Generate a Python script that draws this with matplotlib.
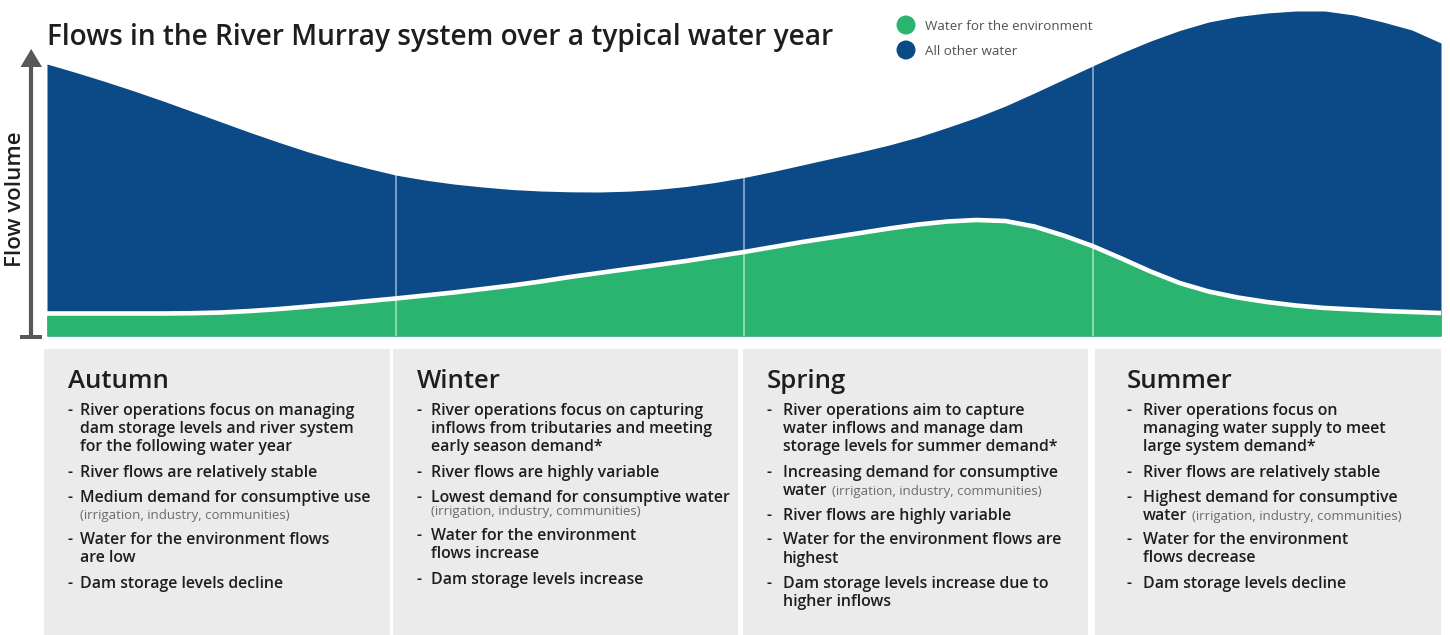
import matplotlib
matplotlib.use("Agg")
import matplotlib.pyplot as plt
from matplotlib.patches import Rectangle, Circle, Polygon

# ---------------- data ----------------
months = [0, 0.25, 0.5, 0.75, 1, 1.25, 1.5, 1.75, 2, 2.25, 2.5, 2.75, 3, 3.25,
          3.5, 3.75, 4, 4.25, 4.5, 4.75, 5, 5.25, 5.5, 5.75, 6, 6.25, 6.5,
          6.75, 7, 7.25, 7.5, 7.75, 8, 8.25, 8.5, 8.75, 9, 9.25, 9.5, 9.75,
          10, 10.25, 10.5, 10.75, 11, 11.25, 11.5, 11.75, 12]
total_flow = [272, 263.5, 254.5, 245, 235, 224.5, 214, 203.5, 193.5, 184, 175.5,
              168, 161, 156, 152, 149, 146.5, 145, 144.2, 144, 144.8, 146.5,
              149.5, 153.5, 158.5, 164.5, 171, 177.5, 184, 191, 199, 208.5,
              218.5, 230, 243, 256.5, 270, 283, 295, 305.5, 314, 319.5, 323,
              325, 325, 321, 314, 306, 293]
env_flow = [22.5, 22.5, 22.5, 22.5, 22.5, 22.8, 23.5, 25, 27, 29.5, 32, 34.8,
            37.5, 40.5, 43.5, 47, 50.5, 54.5, 59, 63, 67, 71, 75, 79.5, 84, 89,
            94, 98.5, 103, 107.5, 111.5, 114.5, 116, 115, 109.5, 100.5, 90,
            77.5, 64.5, 53, 44.5, 38.5, 34, 30.5, 28, 26.5, 25, 24, 23]

season_bounds = [3, 6, 9]
series_labels = ["Water for the environment", "All other water"]
title = "Flows in the River Murray system over a typical water year"
y_label = "Flow volume"

seasons = ["Autumn", "Winter", "Spring", "Summer"]
notes_autumn = [
    ("-", "River operations focus on managing", None),
    ("", "dam storage levels and river system", None),
    ("", "for the following water year", None),
    ("-", "River flows are relatively stable", None),
    ("-", "Medium demand for consumptive use", None),
    ("", "", "(irrigation, industry, communities)"),
    ("-", "Water for the environment flows", None),
    ("", "are low", None),
    ("-", "Dam storage levels decline", None),
]
notes_winter = [
    ("-", "River operations focus on capturing", None),
    ("", "inflows from tributaries and meeting", None),
    ("", "early season demand*", None),
    ("-", "River flows are highly variable", None),
    ("-", "Lowest demand for consumptive water", None),
    ("", "", "(irrigation, industry, communities)"),
    ("-", "Water for the environment", None),
    ("", "flows increase", None),
    ("-", "Dam storage levels increase", None),
]
notes_spring = [
    ("-", "River operations aim to capture", None),
    ("", "water inflows and manage dam", None),
    ("", "storage levels for summer demand*", None),
    ("-", "Increasing demand for consumptive", None),
    ("", "water", "(irrigation, industry, communities)"),
    ("-", "River flows are highly variable", None),
    ("-", "Water for the environment flows are", None),
    ("", "highest", None),
    ("-", "Dam storage levels increase due to", None),
    ("", "higher inflows", None),
]
notes_summer = [
    ("-", "River operations focus on", None),
    ("", "managing water supply to meet", None),
    ("", "large system demand*", None),
    ("-", "River flows are relatively stable", None),
    ("-", "Highest demand for consumptive", None),
    ("", "water", "(irrigation, industry, communities)"),
    ("-", "Water for the environment", None),
    ("", "flows decrease", None),
    ("-", "Dam storage levels decline", None),
]

# ---------------- style ----------------
W, H = 1450, 635
BLUE = "#0c4a87"
GREEN = "#2ab46f"
PANEL = "#ebebeb"
DARK = "#1e1e1e"
GREY_TXT = "#6a6a6a"
ARROW = "#54595d"
FONT = ["Open Sans", "DejaVu Sans"]
plt.rcParams["font.family"] = FONT

fig = plt.figure(figsize=(W / 100, H / 100), dpi=100)

# overlay axes in pixel coordinates
ov = fig.add_axes([0, 0, 1, 1])
ov.set_xlim(0, W)
ov.set_ylim(H, 0)
ov.axis("off")

# chart axes
x_left, x_right, y_base = 47, 1441, 336
ax = fig.add_axes([x_left / W, 1 - y_base / H, (x_right - x_left) / W, y_base / H])
ax.set_xlim(0, 12)
ax.set_ylim(0, y_base)
ax.axis("off")
ax.patch.set_alpha(0)

blue = ax.fill_between(months, 0, total_flow, color=BLUE, lw=0, zorder=1)
ax.fill_between(months, 0, env_flow, color=GREEN, lw=0, zorder=2)
ax.plot(months, env_flow, color="white", lw=3.3, zorder=3,
        solid_joinstyle="round", solid_capstyle="butt")
vl = ax.vlines(season_bounds, 0, y_base, color="white", alpha=0.5, lw=1.3, zorder=4)
vl.set_clip_path(blue.get_paths()[0], ax.transData)

# title
ov.text(47, 45, title, fontsize=20.2, fontweight="semibold", color=DARK, va="baseline", ha="left")

# legend
ov.add_patch(Circle((906, 25), 9.5, color=GREEN, lw=0))
ov.add_patch(Circle((906, 50), 9.5, color=BLUE, lw=0))
ov.text(925, 25, series_labels[0], fontsize=9.6, color="#505050", va="center_baseline", ha="left")
ov.text(925, 50, series_labels[1], fontsize=9.6, color="#505050", va="center_baseline", ha="left")

# y arrow
ov.plot([31, 31], [337, 64], color=ARROW, lw=3.0, solid_capstyle="butt")
ov.add_patch(Polygon([(20.5, 67), (42, 67), (31.2, 49)], closed=True, color=ARROW, lw=0))
ov.add_patch(Rectangle((20, 335), 22, 4, color=ARROW, lw=0))
ov.text(16, 199, y_label, rotation=90, fontsize=16, fontweight="semibold", color=DARK,
        ha="center", va="center")

# panels
panel_x = [(44, 390), (393, 738), (743, 1088), (1095, 1441)]
title_x = [68, 417, 767, 1127]
text_x = [80, 431, 783, 1143]
baselines = [
    [415, 433, 451, 477, 502, 519, 544, 562, 588],
    [415, 433, 451, 477, 502, 515, 540, 558, 584],
    [415, 433, 451, 477, 495, 520, 544, 563, 588, 606],
    [415, 433, 451, 477, 502, 520, 544, 562, 588],
]
notes = [notes_autumn, notes_winter, notes_spring, notes_summer]

fig.canvas.draw()
renderer = fig.canvas.get_renderer()

for i in range(4):
    x0, x1 = panel_x[i]
    ov.add_patch(Rectangle((x0, 349), x1 - x0, H - 349 + 2, color=PANEL, lw=0, zorder=0))
    ov.text(title_x[i], 388, seasons[i], fontsize=18.5, fontweight="semibold", color=DARK,
            va="baseline", ha="left")
    for (dash, main, small), yb in zip(notes[i], baselines[i]):
        if dash:
            ov.text(title_x[i], yb, dash, fontsize=11.4, fontweight="semibold", color=DARK,
                    va="baseline", ha="left")
        xs = text_x[i]
        if main:
            t = ov.text(xs, yb, main, fontsize=11.4, fontweight="semibold", color=DARK,
                        va="baseline", ha="left")
            if small:
                bb = t.get_window_extent(renderer)
                xs = bb.x1 + 5
        if small:
            ov.text(xs, yb, small, fontsize=9.5, color=GREY_TXT, va="baseline", ha="left")

fig.savefig("out.png", dpi=100)
